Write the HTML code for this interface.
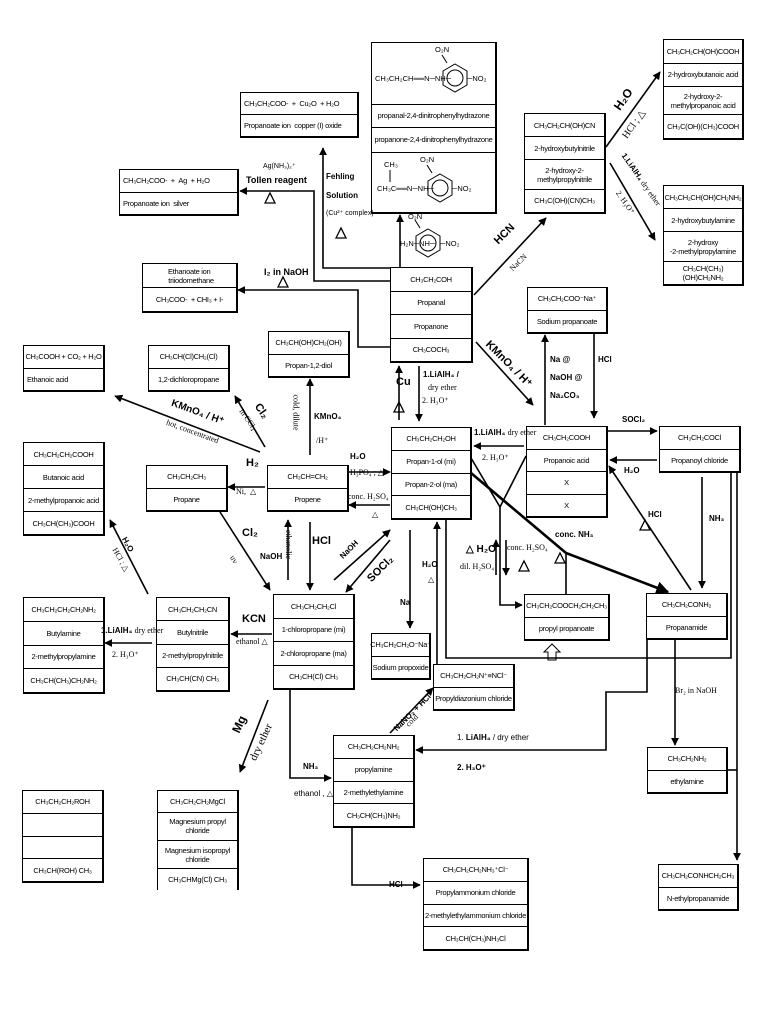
<!DOCTYPE html>
<html><head><meta charset="utf-8"><style>
body{margin:0;width:768px;height:1024px;background:#fff;position:relative;overflow:hidden;font-family:"Liberation Sans",sans-serif;}
.b{position:absolute;border:1.5px solid #000;border-right-width:2px;border-bottom-width:2px;background:#fff;display:flex;flex-direction:column;box-sizing:border-box}
.b div{flex:1;display:flex;align-items:center;justify-content:center;text-align:center;font-size:7.5px;letter-spacing:-0.3px;line-height:9px;border-top:1px solid #000}
.b div:first-child{border-top:none}
.b div.l{justify-content:flex-start;padding-left:3px}
.t{position:absolute;font-size:8px;white-space:nowrap;line-height:9px}
.bo{font-weight:bold}
.s{font-family:"Liberation Serif",serif}
svg{position:absolute;left:0;top:0}
</style></head><body>

<div class="b" style="left:240px;top:92px;width:119px;height:46px"><div class="l">CH₃CH₂COO- &nbsp;+ &nbsp;Cu₂O &nbsp;+ H₂O</div><div class="l">Propanoate ion &nbsp;copper (I) oxide</div></div>
<div class="b" style="left:119px;top:169px;width:120px;height:47px"><div class="l">CH₃CH₂COO- &nbsp;+ &nbsp;Ag &nbsp;+ H₂O</div><div class="l">Propanoate ion &nbsp;silver</div></div>
<div class="b" style="left:142px;top:263px;width:96px;height:50px"><div class="l">Ethanoate ion &nbsp; triiodomethane</div><div>CH₃COO- &nbsp;+ CHI₃ + I-</div></div>
<div class="b" style="left:371px;top:42px;width:126px;height:172px"><div style="flex:63"></div><div style="flex:22">propanal-2,4-dinitrophenylhydrazone</div><div style="flex:25">propanone-2,4-dinitrophenylhydrazone</div><div style="flex:61"></div></div>
<div class="b" style="left:390px;top:267px;width:83px;height:96px"><div>CH₃CH₂COH</div><div>Propanal</div><div>Propanone</div><div>CH₃COCH₃</div></div>
<div class="b" style="left:524px;top:113px;width:82px;height:101px"><div>CH₃CH₂CH(OH)CN</div><div>2-hydroxybutylnitrile</div><div style="flex:1.3">2-hydroxy-2-<br>methylpropylnitrile</div><div>CH₃C(OH)(CN)CH₃</div></div>
<div class="b" style="left:663px;top:39px;width:81px;height:101px"><div>CH₃CH₂CH(OH)COOH</div><div>2-hydroxybutanoic acid</div><div style="flex:1.2">2-hydroxy-2-<br>methylpropanoic acid</div><div>CH₃C(OH)(CH₃)COOH</div></div>
<div class="b" style="left:663px;top:185px;width:81px;height:101px"><div>CH₃CH₂CH(OH)CH₂NH₂</div><div>2-hydroxybutylamine</div><div style="flex:1.3">2-hydroxy<br>-2-methylpropylamine</div><div>CH₃CH(CH₃)(OH)CH₂NH₂</div></div>
<div class="b" style="left:527px;top:287px;width:81px;height:47px"><div>CH₃CH₂COO⁻Na⁺</div><div>Sodium propanoate</div></div>
<div class="b" style="left:23px;top:345px;width:82px;height:47px"><div>CH₃COOH + CO₂ + H₂O</div><div class="l">Ethanoic acid</div></div>
<div class="b" style="left:148px;top:345px;width:82px;height:47px"><div>CH₃CH(Cl)CH₂(Cl)</div><div>1,2-dichloropropane</div></div>
<div class="b" style="left:268px;top:331px;width:82px;height:47px"><div>CH₃CH(OH)CH₂(OH)</div><div>Propan-1,2-diol</div></div>
<div class="b" style="left:23px;top:442px;width:82px;height:94px"><div>CH₃CH₂CH₂COOH</div><div>Butanoic acid</div><div>2-methylpropanoic acid</div><div>CH₃CH(CH₃)COOH</div></div>
<div class="b" style="left:146px;top:465px;width:82px;height:47px"><div>CH₃CH₂CH₃</div><div>Propane</div></div>
<div class="b" style="left:267px;top:465px;width:82px;height:47px"><div>CH₃CH=CH₂</div><div>Propene</div></div>
<div class="b" style="left:391px;top:427px;width:81px;height:93px"><div>CH₃CH₂CH₂OH</div><div>Propan-1-ol (mi)</div><div>Propan-2-ol (ma)</div><div>CH₃CH(OH)CH₃</div></div>
<div class="b" style="left:526px;top:426px;width:82px;height:92px"><div>CH₃CH₂COOH</div><div>Propanoic acid</div><div>X</div><div>X</div></div>
<div class="b" style="left:659px;top:426px;width:82px;height:47px"><div>CH₃CH₂COCl</div><div>Propanoyl chloride</div></div>
<div class="b" style="left:23px;top:597px;width:82px;height:97px"><div>CH₃CH₂CH₂CH₂NH₂</div><div>Butylamine</div><div>2-methylpropylamine</div><div>CH₃CH(CH₃)CH₂NH₂</div></div>
<div class="b" style="left:156px;top:597px;width:74px;height:95px"><div>CH₃CH₂CH₂CN</div><div>Butylnitrile</div><div>2-methylpropylnitrile</div><div>CH₃CH(CN) CH₃</div></div>
<div class="b" style="left:273px;top:594px;width:82px;height:96px"><div>CH₃CH₂CH₂Cl</div><div>1-chloropropane (mi)</div><div>2-chloropropane (ma)</div><div>CH₃CH(Cl) CH₃</div></div>
<div class="b" style="left:371px;top:633px;width:60px;height:47px"><div>CH₃CH₂CH₂O⁻Na⁺</div><div>Sodium propoxide</div></div>
<div class="b" style="left:433px;top:664px;width:82px;height:47px"><div>CH₃CH₂CH₂N⁺≡NCl⁻</div><div>Propyldiazonium chloride</div></div>
<div class="b" style="left:524px;top:594px;width:86px;height:47px"><div>CH₃CH₂COOCH₂CH₂CH₃</div><div>propyl propanoate</div></div>
<div class="b" style="left:646px;top:593px;width:82px;height:47px"><div>CH₃CH₂CONH₂</div><div>Propanamide</div></div>
<div class="b" style="left:333px;top:735px;width:82px;height:93px"><div>CH₃CH₂CH₂NH₂</div><div>propylamine</div><div>2-methylethylamine</div><div>CH₃CH(CH₃)NH₂</div></div>
<div class="b" style="left:647px;top:747px;width:81px;height:47px"><div>CH₃CH₂NH₂</div><div>ethylamine</div></div>
<div class="b" style="left:22px;top:790px;width:82px;height:93px"><div>CH₃CH₂CH₂ROH</div><div></div><div></div><div>CH₃CH(ROH) CH₃</div></div>
<div class="b" style="left:157px;top:790px;width:82px;height:100px;border-bottom:none"><div>CH₃CH₂CH₂MgCl</div><div style="flex:1.3">Magnesium propyl<br>chloride</div><div style="flex:1.3">Magnesium isopropyl<br>chloride</div><div>CH₃CHMg(Cl) CH₃</div></div>
<div class="b" style="left:423px;top:858px;width:106px;height:93px"><div>CH₃CH₂CH₂NH₃⁺Cl⁻</div><div>Propylammonium chloride</div><div>2-methylethylammonium chloride</div><div>CH₃CH(CH₃)NH₃Cl</div></div>
<div class="b" style="left:658px;top:864px;width:81px;height:47px"><div>CH₃CH₂CONHCH₂CH₃</div><div>N-ethylpropanamide</div></div>

<svg width="768" height="1024">
<defs><marker id="a" viewBox="0 0 10 10" refX="9" refY="5" markerWidth="5" markerHeight="5" orient="auto"><path d="M0,0L10,5L0,10z"/></marker></defs>
<g fill="none" stroke="#000" stroke-width="1.6" marker-end="url(#a)">
<polyline points="390,268 323,268 323,148"/>
<polyline points="390,281 314,281 314,191 240,191"/>
<polyline points="390,347 358,347 358,290 238,290"/>
<line x1="400" y1="267" x2="400" y2="215"/>
<line x1="474" y1="295" x2="546" y2="218"/>
<line x1="606" y1="147" x2="660" y2="72"/>
<line x1="610" y1="163" x2="655" y2="240"/>
<line x1="476" y1="342" x2="533" y2="405"/>
<line x1="399" y1="420" x2="399" y2="366"/>
<line x1="419" y1="366" x2="419" y2="421"/>
<line x1="524" y1="446" x2="474" y2="446"/>
<line x1="545" y1="425" x2="545" y2="335"/>
<line x1="594" y1="334" x2="594" y2="418"/>
<line x1="608" y1="431" x2="657" y2="431"/>
<line x1="657" y1="460" x2="610" y2="460"/>
<line x1="702" y1="477" x2="702" y2="588"/>
<line x1="691" y1="590" x2="609" y2="466"/>
<polyline points="500,507 500,605 522,605"/>
<line x1="496" y1="575" x2="496" y2="540"/>
<line x1="506" y1="540" x2="506" y2="575"/>
<line x1="437" y1="665" x2="437" y2="522"/>
<line x1="410" y1="530" x2="410" y2="628"/>
<polyline points="647,640 647,692 606,692 606,750 416,750"/>
<line x1="675" y1="640" x2="675" y2="745"/>
<line x1="737" y1="472" x2="737" y2="860"/>
<line x1="349" y1="472" x2="390" y2="472"/>
<line x1="390" y1="505" x2="349" y2="505"/>
<line x1="334" y1="580" x2="390" y2="530"/>
<line x1="390" y1="540" x2="346" y2="592"/>
<line x1="265" y1="487" x2="228" y2="487"/>
<line x1="265" y1="447" x2="235" y2="396"/>
<line x1="260" y1="452" x2="115" y2="396"/>
<line x1="310" y1="455" x2="310" y2="379"/>
<line x1="310" y1="522" x2="310" y2="590"/>
<line x1="288" y1="580" x2="288" y2="520"/>
<line x1="220" y1="512" x2="270" y2="590"/>
<line x1="272" y1="634" x2="231" y2="634"/>
<line x1="148" y1="594" x2="110" y2="520"/>
<line x1="152" y1="643" x2="105" y2="643"/>
<line x1="268" y1="700" x2="240" y2="772"/>
<polyline points="290,690 290,778 331,778"/>
<line x1="390" y1="733" x2="433" y2="688"/>
<polyline points="352,828 352,885 420,885"/>
<polyline points="471,473 566,553 668,592" stroke-width="2.6"/>
</g>
<g fill="none" stroke="#000" stroke-width="1.6">
<polyline points="471,458 500,507 526,456"/>
<line x1="566" y1="553" x2="566" y2="594"/>
<polyline points="446,520 446,658 731,658 731,472"/>
<line x1="727" y1="770" x2="737" y2="770"/>
<path d="M548,660 v-8 h-4 l8,-8 l8,8 h-4 v8z" stroke-width="1"/>
</g>
<g fill="none" stroke="#000" stroke-width="1.3">
<path d="M265,203l5,-10l5,10z"/><path d="M336,238l5,-10l5,10z"/><path d="M278,287l5,-10l5,10z"/>
<path d="M394,412l5,-10l5,10z"/><path d="M640,530l5,-10l5,10z"/><path d="M555,563l5,-10l5,10z"/>
<path d="M519,571l5,-10l5,10z"/>
</g>
<g fill="none" stroke="#000" stroke-width="1">
<path d="M455,64 l12,7 v14 l-12,7 l-12,-7 v-14z"/><circle cx="455" cy="78" r="8"/>
<line x1="447" y1="63" x2="442" y2="55"/>
<path d="M440,174 l12,7 v14 l-12,7 l-12,-7 v-14z"/><circle cx="440" cy="188" r="8"/>
<line x1="432" y1="173" x2="427" y2="165"/>
<line x1="390" y1="170" x2="390" y2="182"/>
<path d="M428,229 l12,7 v14 l-12,7 l-12,-7 v-14z"/><circle cx="428" cy="243" r="8"/>
<line x1="420" y1="228" x2="415" y2="220"/>
</g>
</svg>
<div class="t" style="left:375px;top:74px;font-size:7.5px">CH₃CH₂CH══N─NH─</div>
<div class="t" style="left:467px;top:74px;font-size:7.5px">─NO₂</div>
<div class="t" style="left:435px;top:45px;font-size:7.5px">O₂N</div>
<div class="t" style="left:384px;top:160px;font-size:7.5px">CH₃</div>
<div class="t" style="left:377px;top:184px;font-size:7.5px">CH₃C══N─NH─</div>
<div class="t" style="left:452px;top:184px;font-size:7.5px">─NO₂</div>
<div class="t" style="left:420px;top:155px;font-size:7.5px">O₂N</div>
<div class="t" style="left:400px;top:239px;font-size:7.5px">H₂N─NH─</div>
<div class="t" style="left:440px;top:239px;font-size:7.5px">─NO₂</div>
<div class="t" style="left:408px;top:212px;font-size:7.5px">O₂N</div>

<div class="t" style="left:263px;top:162px;font-size:7px">Ag(NH₃)₂⁺</div>
<div class="t bo" style="left:246px;top:176px;font-size:9px">Tollen reagent</div>
<div class="t bo" style="left:326px;top:172px">Fehling</div>
<div class="t bo" style="left:326px;top:191px">Solution</div>
<div class="t" style="left:326px;top:209px;font-size:7px">(Cu²⁺ complex)</div>
<div class="t bo" style="left:264px;top:268px;font-size:9px">I₂ in NaOH</div>
<div class="t bo" style="left:493px;top:230px;font-size:11px;transform:rotate(-45deg)">HCN</div>
<div class="t s" style="left:508px;top:258px;transform:rotate(-45deg)">NaCN</div>
<div class="t bo" style="left:612px;top:95px;font-size:12px;transform:rotate(-55deg)">H₂O</div>
<div class="t s" style="left:618px;top:120px;font-size:10px;transform:rotate(-55deg)">HCl ; △</div>
<div class="t bo" style="left:610px;top:175px;transform:rotate(55deg)">1.LiAlH₄ <span class="s" style="font-weight:normal">dry ether</span></div>
<div class="t s" style="left:612px;top:198px;transform:rotate(55deg)">2. H₃O⁺</div>
<div class="t bo" style="left:478px;top:360px;font-size:11px;transform:rotate(45deg)">KMnO₄ / H⁺</div>
<div class="t bo" style="left:550px;top:355px">Na @</div>
<div class="t bo" style="left:550px;top:373px">NaOH @</div>
<div class="t bo" style="left:550px;top:391px">Na₂CO₃</div>
<div class="t bo" style="left:598px;top:355px">HCl</div>
<div class="t bo" style="left:396px;top:378px;font-size:11px">Cu</div>
<div class="t bo" style="left:423px;top:370px">1.LiAlH₄ /</div>
<div class="t s" style="left:428px;top:383px">dry ether</div>
<div class="t s" style="left:422px;top:396px">2. H₃O⁺</div>
<div class="t bo" style="left:474px;top:428px">1.LiAlH₄ <span class="s" style="font-weight:normal">dry ether</span></div>
<div class="t s" style="left:482px;top:453px">2. H₃O⁺</div>
<div class="t bo" style="left:622px;top:415px">SOCl₂</div>
<div class="t bo" style="left:624px;top:466px">H₂O</div>
<div class="t bo" style="left:709px;top:514px">NH₃</div>
<div class="t bo" style="left:648px;top:510px">HCl</div>
<div class="t bo" style="left:555px;top:530px">conc. NH₃</div>
<div class="t bo" style="left:466px;top:545px;font-size:10px">△ H₂O</div>
<div class="t s" style="left:460px;top:562px">dil. H₂SO₄</div>
<div class="t s" style="left:507px;top:543px">conc. H₂SO₄</div>
<div class="t bo" style="left:422px;top:560px">H₂O</div>
<div class="t" style="left:428px;top:575px">△</div>
<div class="t bo" style="left:400px;top:598px">Na</div>
<div class="t s" style="left:675px;top:686px">Br₂ in NaOH</div>
<div class="t" style="left:457px;top:733px">1. <b>LiAlH₄</b> / dry ether</div>
<div class="t bo" style="left:457px;top:763px">2. H₃O⁺</div>
<div class="t bo" style="left:388px;top:708px;transform:rotate(-45deg)">NaNO₂ + HCl</div>
<div class="t s" style="left:405px;top:716px;transform:rotate(-45deg)">cold</div>
<div class="t bo" style="left:303px;top:762px">NH₃</div>
<div class="t" style="left:294px;top:789px">ethanol , △</div>
<div class="t bo" style="left:389px;top:880px">HCl</div>
<div class="t bo" style="left:231px;top:720px;font-size:12px;transform:rotate(-65deg)">Mg</div>
<div class="t s" style="left:242px;top:738px;font-size:11px;transform:rotate(-65deg)">dry ether</div>
<div class="t bo" style="left:350px;top:452px">H₂O</div>
<div class="t s" style="left:350px;top:468px">H₃PO₄ ; △</div>
<div class="t s" style="left:348px;top:492px">conc. H₂SO₄</div>
<div class="t" style="left:372px;top:510px">△</div>
<div class="t bo" style="left:338px;top:545px;transform:rotate(-45deg)">NaOH</div>
<div class="t bo" style="left:365px;top:565px;font-size:11px;transform:rotate(-45deg)">SOCl₂</div>
<div class="t bo" style="left:312px;top:537px;font-size:11px">HCl</div>
<div class="t bo" style="left:260px;top:552px">NaOH</div>
<div class="t s" style="left:274px;top:540px;transform:rotate(90deg)">ethanolic</div>
<div class="t bo" style="left:314px;top:412px">KMnO₄</div>
<div class="t s" style="left:316px;top:436px">/H⁺</div>
<div class="t s" style="left:278px;top:408px;transform:rotate(90deg)">cold, dilute</div>
<div class="t bo" style="left:253px;top:407px;font-size:11px;transform:rotate(55deg)">Cl₂</div>
<div class="t s" style="left:236px;top:415px;transform:rotate(55deg)">in CCl₄</div>
<div class="t bo" style="left:170px;top:408px;font-size:10px;transform:rotate(20deg)">KMnO₄ / H⁺</div>
<div class="t s" style="left:165px;top:427px;transform:rotate(20deg)">hot, concentrated</div>
<div class="t bo" style="left:246px;top:459px;font-size:11px">H₂</div>
<div class="t s" style="left:236px;top:487px">Ni, &nbsp;△</div>
<div class="t bo" style="left:242px;top:529px;font-size:11px">Cl₂</div>
<div class="t s" style="left:230px;top:555px;transform:rotate(60deg)">uv</div>
<div class="t bo" style="left:242px;top:615px;font-size:11px">KCN</div>
<div class="t s" style="left:236px;top:637px">ethanol △</div>
<div class="t bo" style="left:120px;top:540px;transform:rotate(60deg)">H₂O</div>
<div class="t s" style="left:108px;top:555px;transform:rotate(60deg)">HCl ; △</div>
<div class="t bo" style="left:101px;top:626px">1.LiAlH₄ <span class="s" style="font-weight:normal">dry ether</span></div>
<div class="t s" style="left:112px;top:650px">2. H₃O⁺</div>
</body></html>
